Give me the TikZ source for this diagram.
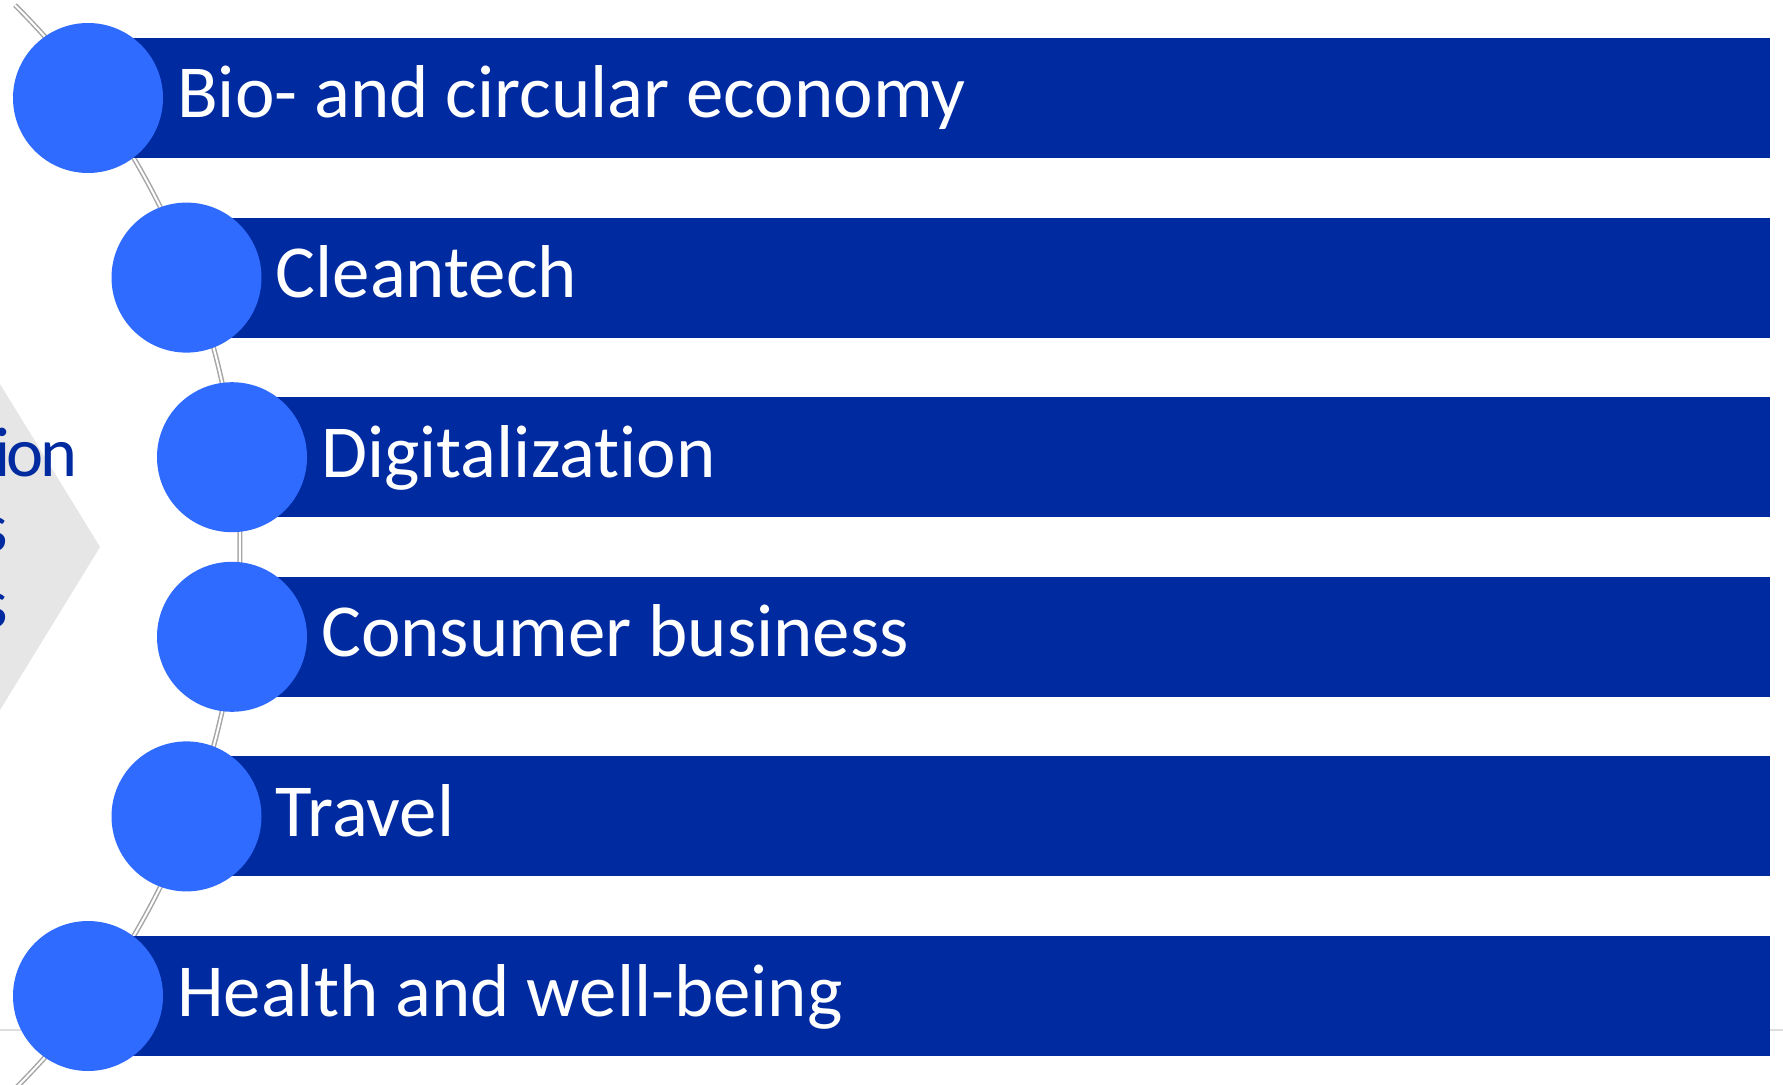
\documentclass[tikz,border=0pt]{standalone}
\usepackage{fontspec}
\setmainfont[Ligatures=NoCommon]{Carlito}
\definecolor{barblue}{RGB}{0,42,160}
\definecolor{dotblue}{RGB}{48,107,255}
\definecolor{chevgray}{RGB}{231,230,230}
\definecolor{arcgray}{RGB}{166,166,166}
\definecolor{rulegray}{RGB}{222,222,222}
\begin{document}
\begin{tikzpicture}[x=0.1mm,y=-0.1mm,
  bar/.style={fill=barblue},
  dot/.style={circle, fill=dotblue, draw=none, minimum size=15mm, inner sep=0pt},
  lbl/.style={inner sep=0pt, text=white, font=\fontsize{21.3pt}{25pt}\selectfont},
  sidetext/.style={inner sep=0pt, text=barblue,
    font=\fontsize{20pt}{24pt}\selectfont\addfontfeature{LetterSpace=-5}},
  spine/.style={draw=arcgray, line width=0.15mm, double=white, double distance=0.2mm}]
\useasboundingbox (0,0) rectangle (1783,1085);
\clip (0,0) rectangle (1783,1085);
\fill[white] (0,0) rectangle (1783,1085);
% faint horizontal rule behind the list
\draw[rulegray, line width=0.15mm] (0,1030) -- (1783,1030);
% chevron on the left, cut by the frame
\fill[chevgray] (-20,384) -- (0,384) -- (100,547) -- (0,710) -- (-20,710) -- cycle;
\node[sidetext, anchor=base east] (s1) at (78,476) {ion};
\node[sidetext, anchor=base east] (s2) at (9,551) {s};
\node[sidetext, anchor=base east] (s3) at (9,627) {s};
% curved spine through the list markers
\draw[spine] (-525,547) ++(-45.1:765) arc[start angle=-45.1, end angle=46, radius=765];
% list entries
\foreach \i/\cx/\txt in {0/88/{Bio- and circular economy}, 1/186.5/{Cleantech},
    2/232/{Digitalization}, 3/232/{Consumer business}, 4/186.5/{Travel},
    5/88/{Health and well-being}} {
  \pgfmathsetmacro\yc{98+179.6*\i}
  \fill[bar] (\cx,\yc-60) rectangle (1770,\yc+60);
  \node[dot] (c\i) at (\cx,\yc) {};
  \node[lbl, anchor=base west] (t\i) at (\cx+88.5,\yc+20) {\txt};
}
\end{tikzpicture}
\end{document}
